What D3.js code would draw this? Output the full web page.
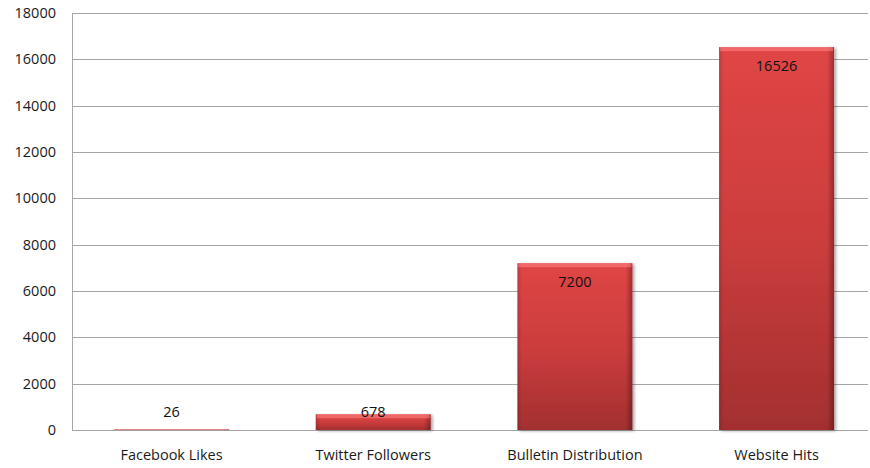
<!DOCTYPE html>
<html><head><meta charset="utf-8">
<script src="https://cdn.jsdelivr.net/npm/d3@7"></script>
<style>body{margin:0;background:#fff}svg{display:block}</style>
</head><body>
<svg id="c" width="870" height="468"></svg>
<script>
const categories = ["Facebook Likes","Twitter Followers","Bulletin Distribution","Website Hits"];
const values = [26, 678, 7200, 16526];
const yTicks = [0,2000,4000,6000,8000,10000,12000,14000,16000,18000];

const svg = d3.select("#c");
const m = {l:72, r:2, t:13, b:38};
const W = 870, H = 468;
const FS = 14.5;
const x = d3.scaleBand().domain(categories).range([70.7, 877.4]).paddingInner(0.43).paddingOuter(0.215);
const y = d3.scaleLinear().domain([0,18000]).range([H - m.b, m.t]);

const defs = svg.append("defs");
const gv = defs.append("linearGradient").attr("id","gv").attr("x1",0).attr("y1",0).attr("x2",0).attr("y2",1);
gv.append("stop").attr("offset",0).attr("stop-color","#e04545");
gv.append("stop").attr("offset",0.5).attr("stop-color","#cc3d3d");
gv.append("stop").attr("offset",1).attr("stop-color","#a32f2f");
const gh = defs.append("linearGradient").attr("id","gh").attr("x1",0).attr("y1",0).attr("x2",1).attr("y2",0);
gh.append("stop").attr("offset",0).attr("stop-color","#000").attr("stop-opacity",0.15);
gh.append("stop").attr("offset",0.04).attr("stop-color","#000").attr("stop-opacity",0);
gh.append("stop").attr("offset",0.94).attr("stop-color","#000").attr("stop-opacity",0);
gh.append("stop").attr("offset",1).attr("stop-color","#000").attr("stop-opacity",0.3);
const f = defs.append("filter").attr("id","sh").attr("x","-10%").attr("y","-10%").attr("width","130%").attr("height","130%");
f.append("feDropShadow").attr("dx",2).attr("dy",1).attr("stdDeviation",1.5).attr("flood-color","#000").attr("flood-opacity",0.35);

// gridlines
svg.append("g").selectAll("line").data(yTicks).join("line")
  .attr("x1", m.l).attr("x2", W - 2)
  .attr("y1", d => Math.round(y(d)) + 0.5).attr("y2", d => Math.round(y(d)) + 0.5)
  .attr("stroke", "#a6a6a6").attr("stroke-width", 1);
// y axis line
svg.append("line").attr("x1", m.l + 0.5).attr("x2", m.l + 0.5)
  .attr("y1", y(18000)).attr("y2", y(0)).attr("stroke", "#a6a6a6");

// y tick labels
const yAxis = d3.axisLeft(y).tickValues(yTicks).tickSize(0).tickPadding(16).tickFormat(d3.format("d"));
const ya = svg.append("g").attr("transform", `translate(${m.l},0)`).call(yAxis);
ya.select(".domain").remove();
ya.selectAll("text").attr("font-family","Open Sans, sans-serif").attr("font-size",FS).attr("fill","#1a1a1a");

// x labels
const xAxis = d3.axisBottom(x).tickSize(0).tickPadding(20);
const xa = svg.append("g").attr("transform", `translate(0,${y(0)})`).call(xAxis);
xa.select(".domain").remove();
xa.selectAll("text").attr("font-family","Open Sans, sans-serif").attr("font-size",FS).attr("fill","#1a1a1a");

// bars
const bars = svg.append("g").selectAll("g").data(categories).join("g");
bars.append("rect")
  .attr("x", d => x(d)).attr("width", x.bandwidth())
  .attr("y", (d,i) => y(values[i])).attr("height", (d,i) => y(0) - y(values[i]))
  .attr("fill", "url(#gv)").attr("filter","url(#sh)");
bars.append("rect")
  .attr("x", d => x(d)).attr("width", x.bandwidth())
  .attr("y", (d,i) => y(values[i])).attr("height", (d,i) => y(0) - y(values[i]))
  .attr("fill", "url(#gh)");
// top bevel highlight
bars.append("rect")
  .attr("x", d => x(d) + 1).attr("width", x.bandwidth() - 2)
  .attr("y", (d,i) => y(values[i])).attr("height", (d,i) => Math.min(4, y(0) - y(values[i])))
  .attr("fill", "#ff8080").attr("opacity", 0.6);

// value labels
svg.append("g").selectAll("text").data(categories).join("text")
  .attr("x", d => x(d) + x.bandwidth()/2)
  .attr("y", (d,i) => Math.min(y(values[i]) + 24, y(0) - 13))
  .attr("text-anchor","middle")
  .attr("font-family","Open Sans, sans-serif").attr("font-size",FS).attr("fill","#111")
  .text((d,i) => values[i]);
</script>
</body></html>
